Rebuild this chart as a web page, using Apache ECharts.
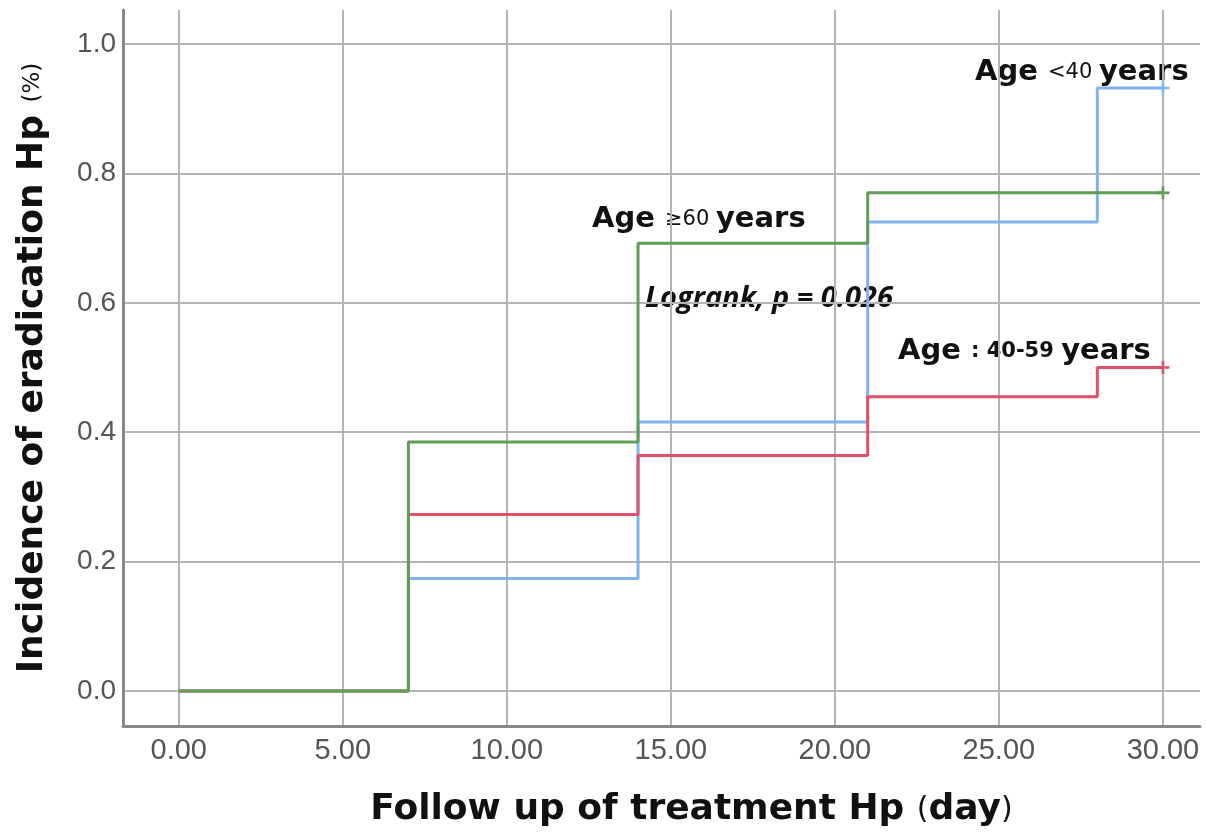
<!DOCTYPE html>
<html>
<head>
<meta charset="utf-8">
<script src="https://cdn.jsdelivr.net/npm/echarts@6/dist/echarts.min.js"></script>
<style>html,body{margin:0;padding:0;background:#fff;}#c{width:1206px;height:835px;}</style>
</head>
<body>
<div id="c"></div>
<script>
const xTicks = [0, 5, 10, 15, 20, 25, 30];
const yTicks = [0, 0.2, 0.4, 0.6, 0.8, 1.0];
const days = [0, 7, 14, 21, 28, 30];
const under40 = [0, 0.174, 0.416, 0.725, 0.932, 0.932];
const age40to59 = [0, 0.273, 0.364, 0.455, 0.5, 0.5];
const over60 = [0, 0.385, 0.692, 0.770, 0.770, 0.770];

const plus = 'path://M4,0 L6,0 L6,4 L10,4 L10,6 L6,6 L6,10 L4,10 L4,6 L0,6 L0,4 L4,4 Z';
function mk(vals) {
  return days.map((d, i) => {
    const item = { value: [d, vals[i]] };
    if (i === days.length - 1) { item.symbol = plus; item.symbolSize = 13; }
    return item;
  });
}
function series(name, vals, color) {
  return {
    name, type: 'line', step: 'end', data: mk(vals),
    symbol: 'none', showSymbol: true,
    lineStyle: { color, width: 3 }, itemStyle: { color },
    silent: true, animation: false, z: 3
  };
}

const TF = 'DejaVu Sans, sans-serif';
const chart = echarts.init(document.getElementById('c'));
const labelFont = { color: '#555', fontFamily: 'Liberation Sans, Arial, sans-serif' };
chart.setOption({
  animation: false,
  grid: { left: 123, right: 6, top: 10, bottom: 109, containLabel: false, outerBoundsMode: 'none' },
  xAxis: {
    type: 'value', min: -1.7, max: 31.13,
    axisLine: { show: true, onZero: false, lineStyle: { color: '#888', width: 3 } },
    axisTick: { show: false, customValues: xTicks },
    axisLabel: Object.assign({ customValues: xTicks, margin: 10, fontSize: 29, formatter: v => v.toFixed(2) }, labelFont),
    splitLine: { show: true, lineStyle: { color: '#b4b4b4', width: 2 } },
    name: '{a|Follow up of treatment Hp }{b|(}{a|day}{b|)}',
    nameLocation: 'middle', nameGap: 66,
    nameTextStyle: { padding: [0, 0, 0, 60], rich: {
      a: { fontSize: 36, fontWeight: 'bold', color: '#111', fontFamily: TF },
      b: { fontSize: 30, fontWeight: 'normal', color: '#111', fontFamily: TF }
    } }
  },
  yAxis: {
    type: 'value', min: -0.054, max: 1.0526,
    axisLine: { show: true, onZero: false, lineStyle: { color: '#888', width: 3 } },
    axisTick: { show: false, customValues: yTicks },
    axisLabel: Object.assign({ customValues: yTicks, margin: 7, fontSize: 28, formatter: v => v.toFixed(1) }, labelFont),
    splitLine: { show: true, lineStyle: { color: '#b4b4b4', width: 2 } },
    name: '{a|Incidence of eradication Hp }{b|(%)}',
    nameLocation: 'middle', nameGap: 72, nameRotate: 90,
    nameTextStyle: { rich: {
      a: { fontSize: 36, fontWeight: 'bold', color: '#111', fontFamily: TF },
      b: { fontSize: 23, fontWeight: 'normal', color: '#111', fontFamily: TF }
    } }
  },
  series: [
    series('Age <40 years', under40, '#80b2f0'),
    series('Age : 40-59 years', age40to59, '#e0506a'),
    series('Age ≥60 years', over60, '#5f9e55')
  ],
  graphic: [
    { type: 'text', left: 975, top: 58, style: { text: '{a|Age }{b|<40 }{a|years}', rich: {
      a: { fontSize: 29, fontWeight: 'bold', fill: '#111', fontFamily: TF },
      b: { fontSize: 21, fill: '#111', fontFamily: TF } } } },
    { type: 'text', left: 592, top: 205, style: { text: '{a|Age }{b|≥60 }{a|years}', rich: {
      a: { fontSize: 29, fontWeight: 'bold', fill: '#111', fontFamily: TF },
      b: { fontSize: 21, fill: '#111', fontFamily: TF } } } },
    { type: 'text', left: 898, top: 337, style: { text: '{a|Age }{b|: 40-59 }{a|years}', rich: {
      a: { fontSize: 29, fontWeight: 'bold', fill: '#111', fontFamily: TF },
      b: { fontSize: 21, fontWeight: 'bold', fill: '#111', fontFamily: TF } } } },
    { type: 'text', left: 645, top: 284, style: { text: 'Logrank, p = 0.026', fontSize: 29, fontStyle: 'italic', fontWeight: 'bold', fill: '#111', fontFamily: 'Open Sans, sans-serif' } }
  ]
});
</script>
</body>
</html>
